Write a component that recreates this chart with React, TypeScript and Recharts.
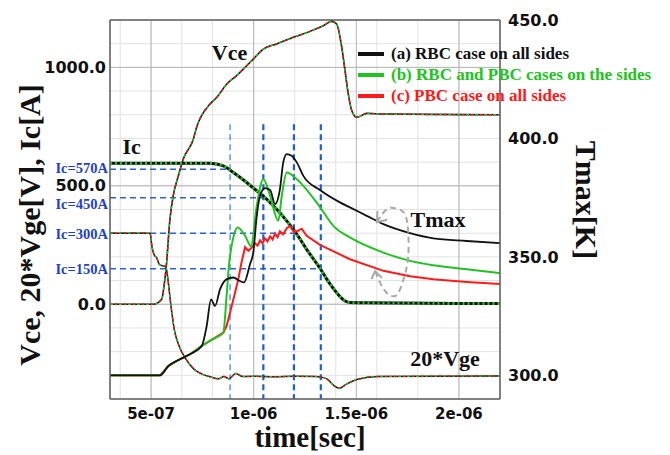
import {
  LineChart,
  Line,
  XAxis,
  YAxis,
  CartesianGrid,
  ReferenceLine,
  ReferenceDot,
  Legend,
} from 'recharts';

// time in ns, voltage / current on left axis, temperature (K) on right axis
const VCE: [number, number][] = [
  [300, 0], [495, 0], [511, 0], [552, 21], [563, 76], [573, 148], [592, 359], [608, 458],
  [633, 542], [657, 613], [706, 697], [722, 747], [787, 845], [820, 873], [869, 930],
  [917, 965], [966, 1007], [998, 1035], [1047, 1077], [1112, 1099], [1193, 1127],
  [1274, 1152], [1339, 1176], [1380, 1194], [1404, 1183], [1429, 1085], [1445, 986],
  [1461, 887], [1478, 817], [1502, 789], [1551, 806], [1631, 803], [2200, 800],
];

const IC: [number, number][] = [
  [300, 595], [787, 595], [852, 584], [901, 556], [966, 514], [1015, 479], [1063, 444],
  [1112, 401], [1161, 352], [1210, 296], [1258, 232], [1323, 152], [1356, 106],
  [1404, 49], [1445, 14], [1469, 7], [1550, 6], [2200, 3],
];

const VGE: [number, number][] = [
  [300, 300], [495, 300], [504, 246], [516, 207], [527, 197], [540, 169], [556, 162],
  [572, 159], [580, 120], [597, -7], [613, -106], [637, -177], [670, -232], [710, -275],
  [751, -296], [783, -305], [830, -315], [855, -305], [880, -315], [912, -292],
  [945, -305], [1000, -304], [1100, -306], [1200, -304], [1300, -305], [1330, -308],
  [1360, -317], [1393, -345], [1417, -355], [1450, -338], [1507, -317], [1604, -305],
  [2200, -303],
];

const TMAX_A: [number, number][] = [
  [300, 300], [544, 300], [584, 303.9], [641, 306.8], [690, 308.9], [747, 312.4],
  [771, 320.8], [792, 332.1], [812, 329.3], [836, 336.3], [869, 340.6], [901, 341.3],
  [933, 339.8], [953, 339.2], [982, 346.9], [998, 351.8], [1015, 367.3], [1031, 375.8],
  [1055, 379], [1080, 378.2], [1104, 372.3], [1128, 378.6], [1144, 389.9], [1161, 393.4],
  [1185, 392.7], [1210, 389.9], [1242, 384.2], [1323, 378.2], [1420, 373], [1469, 370.9],
  [1551, 367.3], [1632, 363.8], [1762, 360], [1875, 357.8], [2038, 356.7], [2200, 355.8],
];

const TMAX_B: [number, number][] = [
  [300, 300], [544, 300], [584, 303.9], [641, 306.8], [690, 308.9], [747, 312.4],
  [799, 315.2], [852, 318], [868, 333.5], [880, 346.9], [899, 357.5], [922, 362.4],
  [958, 358.9], [987, 354.5], [1015, 371.5], [1047, 382.8], [1080, 375.8], [1120, 365.2],
  [1137, 375.8], [1161, 385.6], [1201, 383.5], [1242, 380], [1323, 371], [1388, 363.1],
  [1469, 358.2], [1632, 351.8], [1762, 348.3], [1875, 346.5], [2038, 344.8], [2200, 343.1],
];

const TMAX_C: [number, number][] = [
  [300, 300], [544, 300], [584, 303.9], [641, 306.8], [690, 308.9], [747, 312.4],
  [799, 315.2], [852, 318], [868, 320.8], [893, 329.3], [909, 334.9], [925, 340.6],
  [942, 348.2], [958, 354.1], [974, 352.6], [990, 353.9], [1006, 355.8], [1019, 354.8],
  [1031, 357], [1043, 355.7], [1055, 357.8], [1067, 356.5], [1080, 358.7], [1092, 357.3],
  [1104, 359.8], [1116, 358.3], [1128, 360.8], [1143, 359.5], [1162, 362.2], [1177, 363],
  [1196, 360.4], [1217, 361.1], [1234, 361.9], [1258, 358.9], [1323, 355.1], [1469, 349],
  [1632, 344.1], [1762, 341.8], [1875, 340.6], [2038, 339.4], [2200, 338.5],
];

// dashed loop around the Tmax curves (left-axis units)
const ARC: [number, number][] = [
  [1601, 346], [1648, 401], [1697, 404], [1737, 380], [1753, 303], [1753, 204],
  [1737, 127], [1713, 63], [1689, 35], [1656, 42], [1624, 77], [1595, 132],
];
const ARROW_TOP: [number, number][] = [[1603, 393], [1601, 346], [1650, 357]];
const ARROW_BOTTOM: [number, number][] = [[1574, 106], [1591, 140], [1625, 112]];

const IC_LEVELS = [570, 450, 300, 150];
const IC_LEVEL_LABELS = ['Ic=570A', 'Ic=450A', 'Ic=300A', 'Ic=150A'];
const IC_LABEL_SHIFT = [-1, 6, 1, 0];
const IC_TIMES = [885, 1047, 1196, 1327];
const MARKER_TOP = 760;

const X_TICKS = [500, 1000, 1500, 2000];
const X_TICK_LABELS = ['5e-07', '1e-06', '1.5e-06', '2e-06'];
const LEFT_TICKS = [0, 500, 1000];
const RIGHT_TICKS = [300, 350, 400, 450];

const LEGEND_LABELS = [
  '(a) RBC case on all sides',
  '(b) RBC and PBC cases on the sides',
  '(c) PBC case on all sides',
];
const BLACK = '#111111';
const GREEN = '#20c420';
const RED = '#ff1a1a';
const LEGEND_COLORS = [BLACK, GREEN, RED];

const range = (a: number, b: number, s: number) => {
  const out: number[] = [];
  for (let v = a; v <= b + 1e-9; v += s) out.push(v);
  return out;
};
const MINOR_X = range(300, 2200, 50);
const MINOR_Y = range(-400, 1200, 50);

const pts = (arr: [number, number][]) => arr.map(([t, v]) => ({ t, v }));

const SERIF = '"Liberation Serif", "Times New Roman", serif';
const SANS = '"DejaVu Sans", sans-serif';
const AXIS = '#666666';
const BLUE = '#2a66d0';

const tickFont = { fill: '#111', fontSize: 16, fontWeight: 'bold', fontFamily: SANS };
const noLabel = () => null;

function LegendBox() {
  return (
    <div style={{ fontFamily: SERIF, fontWeight: 'bold', fontSize: 17, lineHeight: '21px' }}>
      {LEGEND_LABELS.map((label, i) => (
        <div key={label} style={{ display: 'flex', alignItems: 'center', whiteSpace: 'nowrap', color: LEGEND_COLORS[i] }}>
          <span style={{ display: 'inline-block', width: 26, height: 4, background: LEGEND_COLORS[i], marginRight: 7 }} />
          {label}
        </div>
      ))}
    </div>
  );
}

export default function App() {
  const common = { xAxisId: 'main', dot: false, activeDot: false, isAnimationActive: false, legendType: 'none' as const, dataKey: 'v' };
  const vce = pts(VCE);
  const ic = pts(IC);
  const vge = pts(VGE);

  return (
    <div style={{ position: 'absolute', left: 0, top: 0, width: 670, height: 455, background: '#fff', overflow: 'hidden' }}>
      <LineChart width={670} height={455} margin={{ top: 20, right: 100, bottom: 26, left: 10 }}>
        <XAxis xAxisId="minor" type="number" dataKey="t" domain={[300, 2200]} ticks={MINOR_X}
          height={0} mirror axisLine={false} tick={noLabel} tickLine={{ stroke: '#777' }} tickSize={4} allowDataOverflow />
        <XAxis xAxisId="main" type="number" dataKey="t" domain={[300, 2200]} ticks={X_TICKS} allowDataOverflow
          height={30} tickSize={0} tickMargin={9} tickLine={false}
          axisLine={{ stroke: AXIS, strokeWidth: 1.5 }}
          tickFormatter={(v: number) => X_TICK_LABELS[X_TICKS.indexOf(v)]}
          tick={{ ...tickFont, fontSize: 15 }} />
        <YAxis yAxisId="minorL" type="number" domain={[-400, 1200]} ticks={MINOR_Y} width={0} mirror
          axisLine={false} tick={noLabel} tickLine={{ stroke: '#777' }} tickSize={4} allowDataOverflow />
        <YAxis yAxisId="left" type="number" domain={[-400, 1200]} ticks={LEFT_TICKS} width={100} allowDataOverflow
          tickSize={0} tickMargin={4} tickLine={false} axisLine={{ stroke: AXIS, strokeWidth: 1.5 }}
          tickFormatter={(v: number) => v.toFixed(1)} tick={tickFont} />
        <YAxis yAxisId="minorR" orientation="right" type="number" domain={[-400, 1200]} ticks={MINOR_Y} width={0} mirror
          axisLine={false} tick={noLabel} tickLine={{ stroke: '#777' }} tickSize={4} allowDataOverflow />
        <YAxis yAxisId="right" orientation="right" type="number" domain={[290, 450]} ticks={RIGHT_TICKS} width={70} allowDataOverflow
          tickSize={0} tickMargin={8} tickLine={false} axisLine={{ stroke: AXIS, strokeWidth: 1.5 }}
          tickFormatter={(v: number) => v.toFixed(1)} tick={tickFont} />

        <CartesianGrid xAxisId="minor" yAxisId="minorL" stroke="#e2e2e2" />
        <CartesianGrid xAxisId="main" yAxisId="left" stroke="#b4b4b4" />
        <ReferenceLine xAxisId="main" yAxisId="left" y={1200} stroke={AXIS} strokeWidth={1.5} />

        {IC_LEVELS.map((lvl, i) => (
          <ReferenceLine key={'h' + lvl} xAxisId="main" yAxisId="left"
            segment={[{ x: 300, y: lvl }, { x: IC_TIMES[i], y: lvl }]}
            stroke={BLUE} strokeWidth={1.5} strokeDasharray="6 4"
            label={{ value: IC_LEVEL_LABELS[i], position: 'left', offset: 2, dy: IC_LABEL_SHIFT[i], fill: '#1f3fd2', fontSize: 14.5, fontWeight: 'bold', fontFamily: SERIF }} />
        ))}
        {IC_TIMES.map((t, i) => (
          <ReferenceLine key={'v' + t} xAxisId="main" yAxisId="left"
            segment={[{ x: t, y: MARKER_TOP }, { x: t, y: -400 }]}
            stroke={i === 0 ? '#3c8ae6' : '#1f5fcc'} strokeWidth={i === 0 ? 1.3 : 2.2} strokeDasharray="6 4" />
        ))}

        {/* Vce, Ic and 20*Vge: three overlapping cases */}
        <Line {...common} yAxisId="left" data={vce} type="monotone" stroke={BLACK} strokeWidth={1.6} />
        <Line {...common} yAxisId="left" data={vce} type="monotone" stroke={GREEN} strokeWidth={1.4} strokeDasharray="3 6" />
        <Line {...common} yAxisId="left" data={vce} type="monotone" stroke={RED} strokeWidth={1.4} strokeDasharray="3 6" strokeDashoffset={4.5} />
        <Line {...common} yAxisId="left" data={vge} type="monotone" stroke={BLACK} strokeWidth={1.5} />
        <Line {...common} yAxisId="left" data={vge} type="monotone" stroke={GREEN} strokeWidth={1.3} strokeDasharray="3 6" />
        <Line {...common} yAxisId="left" data={vge} type="monotone" stroke={RED} strokeWidth={1.3} strokeDasharray="3 6" strokeDashoffset={4.5} />
        <Line {...common} yAxisId="left" data={ic} type="monotone" stroke={BLACK} strokeWidth={3} />
        <Line {...common} yAxisId="left" data={ic} type="monotone" stroke={GREEN} strokeWidth={3} strokeDasharray="2 3" />

        {/* Tmax */}
        <Line {...common} yAxisId="right" data={pts(TMAX_C)} type="linear" stroke={RED} strokeWidth={2} />
        <Line {...common} yAxisId="right" data={pts(TMAX_B)} type="monotone" stroke={GREEN} strokeWidth={2} />
        <Line {...common} yAxisId="right" data={pts(TMAX_A)} type="monotone" stroke={BLACK} strokeWidth={1.8} />

        {/* loop annotation */}
        <Line {...common} yAxisId="left" data={pts(ARC)} type="natural" stroke="#a9a9a9" strokeWidth={2} strokeDasharray="6 4" />
        <Line {...common} yAxisId="left" data={pts(ARROW_TOP)} type="linear" stroke="#a9a9a9" strokeWidth={2} />
        <Line {...common} yAxisId="left" data={pts(ARROW_BOTTOM)} type="linear" stroke="#a9a9a9" strokeWidth={2} />

        <ReferenceDot xAxisId="main" yAxisId="left" x={882} y={1065} r={0} stroke="none" fill="none"
          label={{ value: 'Vce', position: 'center', fill: BLACK, fontSize: 22, fontWeight: 'bold', fontFamily: SERIF }} />
        <ReferenceDot xAxisId="main" yAxisId="left" x={405} y={668} r={0} stroke="none" fill="none"
          label={{ value: 'Ic', position: 'center', fill: BLACK, fontSize: 22, fontWeight: 'bold', fontFamily: SERIF }} />
        <ReferenceDot xAxisId="main" yAxisId="left" x={1898} y={359} r={0} stroke="none" fill="none"
          label={{ value: 'Tmax', position: 'center', fill: BLACK, fontSize: 22, fontWeight: 'bold', fontFamily: SERIF }} />
        <ReferenceDot xAxisId="main" yAxisId="left" x={1932} y={-228} r={0} stroke="none" fill="none"
          label={{ value: '20*Vge', position: 'center', fill: BLACK, fontSize: 22, fontWeight: 'bold', fontFamily: SERIF }} />

        <Legend layout="vertical" align="center" verticalAlign="middle"
          wrapperStyle={{ left: 358, top: 43, width: 312 }} content={() => <LegendBox />} />
      </LineChart>

      <div style={{ position: 'absolute', left: 30, top: 225, transform: 'translate(-50%, -50%) rotate(-90deg)', whiteSpace: 'nowrap', fontFamily: SERIF, fontWeight: 'bold', fontSize: 30, color: BLACK }}>
        Vce, 20*Vge[V], Ic[A]
      </div>
      <div style={{ position: 'absolute', left: 586, top: 200, transform: 'translate(-50%, -50%) rotate(90deg)', whiteSpace: 'nowrap', fontFamily: SERIF, fontWeight: 'bold', fontSize: 30, color: BLACK }}>
        Tmax[K]
      </div>
      <div style={{ position: 'absolute', left: 310, top: 437, transform: 'translate(-50%, -50%)', whiteSpace: 'nowrap', fontFamily: SERIF, fontWeight: 'bold', fontSize: 29, lineHeight: '32px', color: BLACK }}>
        time[sec]
      </div>
    </div>
  );
}
